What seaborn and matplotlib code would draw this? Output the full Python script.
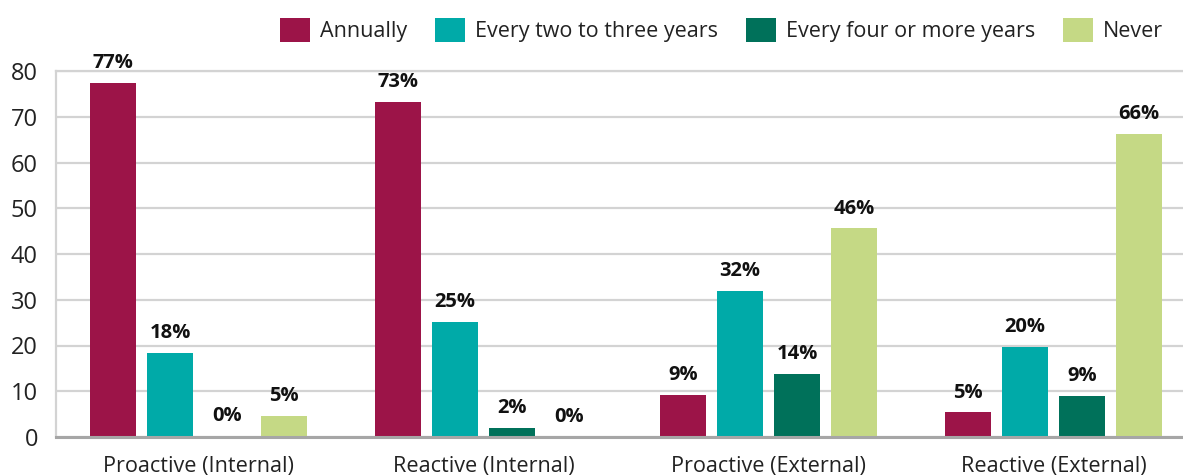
import matplotlib
matplotlib.use("Agg")
import matplotlib.pyplot as plt
import seaborn as sns
import pandas as pd

# Survey results: how often each type of review is carried out (% of respondents)
categories = ["Proactive (Internal)", "Reactive (Internal)",
              "Proactive (External)", "Reactive (External)"]
frequencies = ["Annually", "Every two to three years",
               "Every four or more years", "Never"]
annually = [77.4, 73.2, 9.2, 5.4]
two_to_three = [18.4, 25.1, 31.9, 19.7]
four_or_more = [0.2, 2.0, 13.8, 9.0]
never = [4.6, 0.1, 45.6, 66.2]
y_ticks = [0, 10, 20, 30, 40, 50, 60, 70, 80]

colors = ["#9C1448", "#00AAA8", "#00715A", "#C5D985"]

series = [annually, two_to_three, four_or_more, never]
df = pd.DataFrame({
    "category": [c for s in series for c in categories],
    "frequency": [f for f, s in zip(frequencies, series) for _ in s],
    "value": [v for s in series for v in s],
})

sns.set_style("white")
plt.rcParams["font.family"] = ["Open Sans", "DejaVu Sans"]

fig = plt.figure(figsize=(11.83, 4.75), dpi=100)
W, H = 1183, 475
ax = fig.add_axes([56 / W, (H - 437) / H, (W - 56) / W, (437 - 71) / H])

sns.barplot(data=df, x="category", y="value", hue="frequency",
            order=categories, hue_order=frequencies, palette=colors,
            width=0.8, gap=0.19, saturation=1, errorbar=None, ax=ax,
            linewidth=0, legend=True)

handles, labels = ax.get_legend_handles_labels()
ax.get_legend().remove()

# Percentage labels above each bar
for cont, vals in zip(ax.containers, series):
    ax.bar_label(cont, labels=[f"{round(v)}%" for v in vals], padding=7,
                 fontsize=14.5, fontweight="bold", color="#111111")

ax.set_ylim(0, 80)
ax.set_xlim(-0.5, 3.454)
ax.set_yticks(y_ticks)
ax.set_xlabel("")
ax.set_ylabel("")
ax.grid(axis="y", color="#d3d3d3", linewidth=1.6)
ax.set_axisbelow(True)
ax.tick_params(axis="y", length=0, pad=13, labelsize=17, labelcolor="#222222")
ax.tick_params(axis="x", length=0, pad=14, labelsize=15.6, labelcolor="#222222")

for side in ["left", "top"]:
    ax.spines[side].set_color("#d3d3d3")
    ax.spines[side].set_linewidth(1.6)
ax.spines["right"].set_visible(False)
ax.spines["bottom"].set_color("#a6a6a6")
ax.spines["bottom"].set_linewidth(2.2)

fig.legend(handles, labels, loc="center right", bbox_to_anchor=(1163 / W, 1 - 30 / H),
           ncol=4, frameon=False, fontsize=15.5, handlelength=1.4,
           handleheight=1.4, handletextpad=0.45, columnspacing=1.3,
           borderaxespad=0, borderpad=0, labelcolor="#222222")

fig.savefig("out.png", dpi=100)
